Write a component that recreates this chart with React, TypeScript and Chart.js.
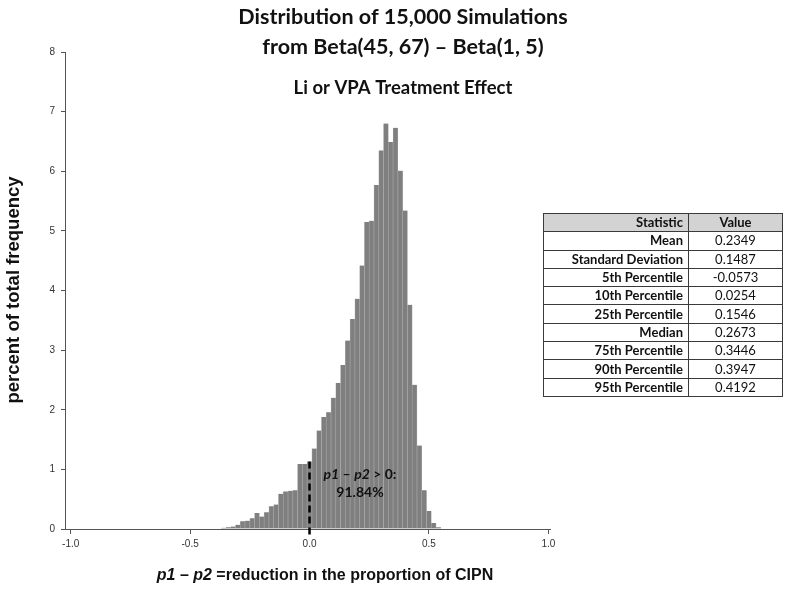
import React, { useEffect, useRef } from "react";
import { Chart, registerables } from "chart.js";

Chart.register(...registerables);

// ---- data ----
const binMidpoints = [
  -0.40, -0.38, -0.36, -0.34, -0.32, -0.30, -0.28, -0.26, -0.24, -0.22,
  -0.20, -0.18, -0.16, -0.14, -0.12, -0.10, -0.08, -0.06, -0.04, -0.02,
  0.00,
  0.02, 0.04, 0.06, 0.08, 0.10, 0.12, 0.14, 0.16, 0.18, 0.20,
  0.22, 0.24, 0.26, 0.28, 0.30, 0.32, 0.34, 0.36, 0.38, 0.40,
  0.42, 0.44, 0.46, 0.48, 0.50, 0.52, 0.54,
];
const percentOfTotal = [
  0.01, 0.01, 0.02, 0.03, 0.04, 0.07, 0.13, 0.14, 0.18, 0.27,
  0.21, 0.28, 0.38, 0.41, 0.59, 0.63, 0.64, 0.65, 1.09, 1.09,
  1.13,
  1.35, 1.65, 1.88, 1.96, 2.20, 2.45, 2.75, 3.16, 3.52, 3.86,
  4.42, 5.15, 5.17, 5.77, 6.35, 6.80, 6.49, 6.73, 6.01, 5.34,
  3.76, 2.42, 1.40, 0.65, 0.30, 0.10, 0.03,
];
const xTickValues = [-1.0, -0.5, 0.0, 0.5, 1.0];
const yTickValues = [0, 1, 2, 3, 4, 5, 6, 7, 8];
const statNames = [
  "Mean", "Standard Deviation", "5th Percentile", "10th Percentile",
  "25th Percentile", "Median", "75th Percentile", "90th Percentile", "95th Percentile",
];
const statValues = ["0.2349", "0.1487", "-0.0573", "0.0254", "0.1546", "0.2673", "0.3446", "0.3947", "0.4192"];
const titleLines = ["Distribution of 15,000 Simulations", "from Beta(45, 67) \u2013 Beta(1, 5)"];
const subtitleText = "Li or VPA Treatment Effect";
const yAxisTitle = "percent of total frequency";
const thresholdValue = 0;
const shareAboveThreshold = "91.84%";

const CAL = "Lato, 'Open Sans', sans-serif";
const ARI = "'Liberation Sans', Arial, sans-serif";

type Seg = { text: string; italic?: boolean };

function drawSegs(ctx: CanvasRenderingContext2D, segs: Seg[], cx: number, cy: number, size: number, family: string, weight = "bold") {
  let total = 0;
  const widths = segs.map((s) => {
    ctx.font = `${s.italic ? "italic " : ""}${weight} ${size}px ${family}`;
    const w = ctx.measureText(s.text).width;
    total += w;
    return w;
  });
  let x = cx - total / 2;
  ctx.textAlign = "left";
  ctx.textBaseline = "middle";
  segs.forEach((s, i) => {
    ctx.font = `${s.italic ? "italic " : ""}${weight} ${size}px ${family}`;
    ctx.fillText(s.text, x, cy);
    x += widths[i];
  });
}

const annotationPlugin = {
  id: "annotations",
  afterDatasetsDraw(chart: any) {
    const { ctx, scales } = chart;
    const xs = scales.x;
    const ys = scales.y;
    const idx = binMidpoints.indexOf(thresholdValue);
    const px = xs.getPixelForValue(thresholdValue);
    ctx.save();
    ctx.strokeStyle = "#000";
    ctx.lineWidth = 2.5;
    ctx.setLineDash([7, 4]);
    ctx.beginPath();
    ctx.moveTo(px, ys.getPixelForValue(percentOfTotal[idx]));
    ctx.lineTo(px, ys.getPixelForValue(0) + 7);
    ctx.stroke();
    ctx.restore();
  },
  afterDraw(chart: any) {
    const { ctx } = chart;
    ctx.save();
    ctx.fillStyle = "#111";
    drawSegs(ctx, [{ text: titleLines[0] }], 403, 17, 21.5, CAL);
    drawSegs(ctx, [{ text: titleLines[1] }], 403, 47, 21.5, CAL);
    drawSegs(ctx, [{ text: subtitleText }], 403, 88, 18.5, CAL);
    drawSegs(ctx, [{ text: "p1", italic: true }, { text: " \u2013 " }, { text: "p2", italic: true }, { text: " > 0:" }], 360, 474, 14, CAL);
    drawSegs(ctx, [{ text: shareAboveThreshold }], 360, 492, 14, CAL);
    drawSegs(ctx, [{ text: "p1", italic: true }, { text: " \u2013 " }, { text: "p2", italic: true }, { text: " =reduction in the proportion of CIPN" }], 325, 576, 16, ARI);
    ctx.translate(14, 290);
    ctx.rotate(-Math.PI / 2);
    drawSegs(ctx, [{ text: yAxisTitle }], 0, 0, 18.5, ARI);
    ctx.restore();
  },
};

export default function App() {
  const ref = useRef<HTMLCanvasElement>(null);
  useEffect(() => {
    const canvas = ref.current!;
    const chart = new Chart(canvas, {
      type: "bar",
      data: {
        datasets: [
          {
            data: binMidpoints.map((x, i) => ({ x, y: percentOfTotal[i] })),
            backgroundColor: "#7f7f7f",
            borderColor: "#a9a9a9",
            borderWidth: { left: 0.6, right: 0.6, top: 0, bottom: 0 },
            borderSkipped: false,
            barPercentage: 1,
            categoryPercentage: 1,
            grouped: false,
          } as any,
        ],
      },
      options: {
        responsive: false,
        animation: false,
        devicePixelRatio: 1,
        layout: { padding: { left: 0, top: 52, right: 235, bottom: 45 } },
        plugins: { legend: { display: false }, tooltip: { enabled: false }, title: { display: false } },
        scales: {
          x: {
            type: "linear",
            min: -1.024,
            max: 1.007,
            offset: false,
            grid: { display: true, offset: false, drawOnChartArea: false, drawTicks: true, tickLength: 5, color: "#555" },
            border: { display: true, color: "#555", width: 1 },
            ticks: {
              font: { family: ARI, size: 10 },
              color: "#333",
              padding: 4,
              maxRotation: 0,
              autoSkip: false,
              callback: (v: any) => Number(v).toFixed(1),
            },
            afterBuildTicks: (s: any) => {
              s.ticks = xTickValues.map((v) => ({ value: v }));
            },
            afterFit: (s: any) => {
              s.height = 30;
            },
          },
          y: {
            type: "linear",
            min: 0,
            max: 8,
            grid: { display: true, drawOnChartArea: false, drawTicks: true, tickLength: 4, color: "#555" },
            border: { display: true, color: "#555", width: 1 },
            ticks: {
              font: { family: ARI, size: 10 },
              color: "#333",
              padding: 6,
              callback: (v: any) => String(v),
            },
            afterBuildTicks: (s: any) => {
              s.ticks = yTickValues.map((v) => ({ value: v }));
            },
            afterFit: (s: any) => {
              s.width = 65;
            },
          },
        },
      },
      plugins: [annotationPlugin],
    });
    return () => chart.destroy();
  }, []);

  const cellBase: React.CSSProperties = {
    border: "1px solid #3a3a3a",
    padding: 0,
    height: 17.3,
    lineHeight: "17px",
    fontSize: 13,
    fontFamily: CAL,
    color: "#111",
    whiteSpace: "nowrap",
  };

  return (
    <div style={{ position: "fixed", left: 0, top: 0, width: 785, height: 604, background: "#fff" }}>
      <canvas ref={ref} width={785} height={604} style={{ position: "absolute", left: 0, top: 0 }} />
      <table
        style={{
          position: "absolute",
          left: 543,
          top: 213,
          width: 239,
          borderCollapse: "collapse",
          tableLayout: "fixed",
        }}
      >
        <colgroup>
          <col style={{ width: 145 }} />
          <col style={{ width: 94 }} />
        </colgroup>
        <tbody>
          <tr style={{ background: "#d3d3d3" }}>
            <td style={{ ...cellBase, textAlign: "right", paddingRight: 5, fontWeight: 700 }}>Statistic</td>
            <td style={{ ...cellBase, textAlign: "center", fontWeight: 700 }}>Value</td>
          </tr>
          {statNames.map((n, i) => (
            <tr key={n}>
              <td style={{ ...cellBase, textAlign: "right", paddingRight: 5, fontWeight: 700 }}>{n}</td>
              <td style={{ ...cellBase, textAlign: "center", fontWeight: 400 }}>{statValues[i]}</td>
            </tr>
          ))}
        </tbody>
      </table>
    </div>
  );
}
